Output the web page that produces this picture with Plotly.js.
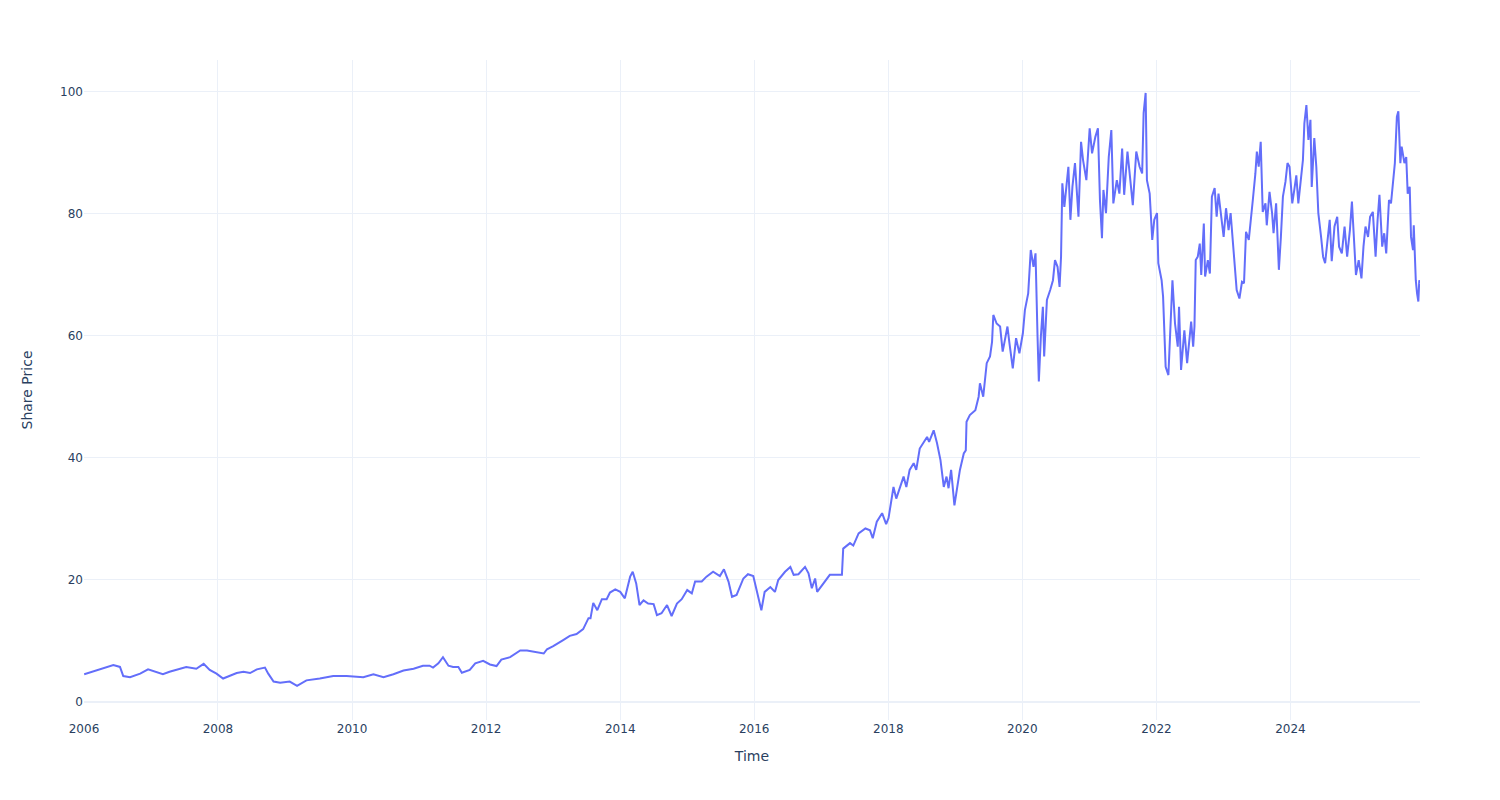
<!DOCTYPE html>
<html>
<head>
<meta charset="utf-8">
<script src="https://cdn.plot.ly/plotly-3.0.1.min.js"></script>
<style>html,body{margin:0;padding:0;background:#fff;}#chart{width:1500px;height:800px;}</style>
</head>
<body>
<div id="chart"></div>
<script>
const dates = [
"2006-01-02","2006-02-02","2006-03-29","2006-05-04","2006-05-26","2006-06-10","2006-07-16","2006-08-03","2006-09-09","2006-11-03","2006-12-16",
"2007-02-02","2007-03-07","2007-04-12","2007-06-06","2007-07-12","2007-09-05","2007-10-15","2007-11-17","2007-12-24",
"2008-01-29","2008-03-06","2008-04-12","2008-05-19","2008-06-24","2008-07-31","2008-09-13","2008-10-01","2008-10-30","2008-12-05",
"2009-01-26","2009-03-07","2009-04-27","2009-07-09","2009-09-20","2009-12-02",
"2010-03-03","2010-04-27","2010-06-21","2010-08-14","2010-10-08","2010-12-02",
"2011-01-22","2011-02-27","2011-03-18","2011-04-16","2011-05-11","2011-06-10","2011-07-05","2011-08-03","2011-08-22","2011-10-04","2011-11-03","2011-12-16",
"2012-01-22","2012-02-27","2012-03-24","2012-05-11","2012-07-05","2012-08-11","2012-09-23","2012-11-10","2012-11-28",
"2013-01-01","2013-02-24","2013-04-01","2013-05-08","2013-06-13","2013-07-12","2013-07-23","2013-08-07","2013-08-29","2013-09-23","2013-10-19","2013-11-06","2013-12-05",
"2014-01-01","2014-01-26","2014-02-24","2014-03-10","2014-03-29","2014-04-16","2014-05-08","2014-06-02","2014-07-02","2014-07-20","2014-08-14","2014-09-13","2014-10-08","2014-11-06","2014-12-02",
"2015-01-01","2015-01-26","2015-02-13","2015-03-21","2015-04-16","2015-05-22","2015-06-28","2015-07-20","2015-08-14","2015-09-02","2015-09-27","2015-11-03","2015-11-28","2015-12-27",
"2016-01-15","2016-02-09","2016-02-27","2016-03-29","2016-04-23","2016-05-11","2016-06-17","2016-07-16","2016-08-03","2016-08-29","2016-10-04","2016-10-23","2016-11-10","2016-11-28","2016-12-09",
"2017-01-11","2017-02-16","2017-03-25","2017-04-23","2017-04-30","2017-06-06","2017-06-24","2017-07-23","2017-08-29","2017-09-23","2017-10-08","2017-10-30","2017-11-28","2017-12-20",
"2018-01-02","2018-01-18","2018-01-29","2018-02-13","2018-03-07","2018-03-25","2018-04-09","2018-04-27","2018-05-19","2018-06-02","2018-06-21","2018-07-12","2018-07-31","2018-08-11","2018-09-05","2018-09-23","2018-10-12","2018-10-30","2018-11-14","2018-11-25","2018-12-09","2018-12-27",
"2019-01-11","2019-01-26","2019-02-16","2019-02-27","2019-03-03","2019-03-21","2019-04-20","2019-05-08","2019-05-15","2019-06-02","2019-06-21","2019-07-09","2019-07-20","2019-07-27","2019-08-14","2019-09-02","2019-09-16","2019-10-01","2019-10-12","2019-10-23","2019-11-10","2019-11-28","2019-12-16",
"2020-01-04","2020-01-15","2020-02-02","2020-02-16","2020-03-02","2020-03-13","2020-03-24","2020-03-31","2020-04-11","2020-04-22","2020-04-29","2020-05-14","2020-06-01","2020-06-16","2020-06-27","2020-07-11","2020-07-22","2020-07-30","2020-08-06","2020-08-17","2020-08-28","2020-09-08","2020-09-19","2020-09-30","2020-10-14","2020-11-02","2020-11-16","2020-11-27","2020-12-15",
"2021-01-02","2021-01-15","2021-02-02","2021-02-16","2021-02-27","2021-03-10","2021-03-18","2021-04-01","2021-04-16","2021-04-30","2021-05-11","2021-05-30","2021-06-13","2021-06-28","2021-07-09","2021-07-27","2021-08-11","2021-08-25","2021-09-13","2021-10-01","2021-10-15","2021-10-23","2021-11-03","2021-11-10","2021-11-25","2021-12-09","2021-12-20",
"2022-01-04","2022-01-11","2022-01-29","2022-02-06","2022-02-20","2022-03-07","2022-03-18","2022-03-29","2022-04-12","2022-04-27","2022-05-04","2022-05-15","2022-06-02","2022-06-17","2022-07-09","2022-07-20","2022-07-27","2022-08-03","2022-08-14","2022-08-25","2022-09-02","2022-09-16","2022-09-23","2022-10-08","2022-10-19","2022-10-30","2022-11-14","2022-11-25","2022-12-05","2022-12-20",
"2023-01-02","2023-01-15","2023-01-29","2023-02-09","2023-02-20","2023-03-07","2023-03-14","2023-03-29","2023-04-12","2023-04-23","2023-05-04","2023-05-19","2023-05-30","2023-06-10","2023-06-24","2023-07-02","2023-07-12","2023-07-23","2023-08-03","2023-08-18","2023-08-25","2023-09-09","2023-09-23","2023-10-01","2023-10-15","2023-10-30","2023-11-10","2023-11-21","2023-12-05","2023-12-16","2023-12-27",
"2024-01-11","2024-01-22","2024-02-02","2024-02-13","2024-02-27","2024-03-09","2024-03-17","2024-03-28","2024-04-08","2024-04-19","2024-04-26","2024-05-10","2024-05-21","2024-06-01","2024-06-16","2024-06-27","2024-07-08","2024-07-22","2024-08-02","2024-08-13","2024-08-28","2024-09-12","2024-09-22","2024-10-07","2024-10-22","2024-11-05","2024-11-20","2024-12-01","2024-12-08","2024-12-23",
"2025-01-07","2025-01-22","2025-02-02","2025-02-13","2025-02-27","2025-03-10","2025-03-25","2025-04-09","2025-04-20","2025-04-30","2025-05-15","2025-05-26","2025-06-06","2025-06-21","2025-07-02","2025-07-12","2025-07-23","2025-08-03","2025-08-11","2025-08-22","2025-08-29","2025-09-13","2025-09-23","2025-10-01","2025-10-12","2025-10-19","2025-10-30","2025-11-03","2025-11-14","2025-11-21","2025-11-28","2025-12-03","2025-12-06"
];
const prices = [
4.5,4.8,5.3,5.7,5.9,6.0,5.7,4.2,4.0,4.6,5.3,
4.9,4.5,4.9,5.4,5.7,5.4,6.2,5.2,4.6,
3.8,4.2,4.7,4.9,4.7,5.3,5.6,4.6,3.3,3.1,
3.3,2.6,3.5,3.8,4.2,4.2,
4.0,4.5,4.0,4.5,5.1,5.4,
5.9,5.9,5.6,6.3,7.3,5.9,5.7,5.7,4.75,5.2,6.3,6.7,
6.1,5.85,6.9,7.3,8.4,8.4,8.2,7.9,8.6,
9.1,10.1,10.8,11.1,11.9,13.7,13.7,16.2,15.0,16.8,16.8,17.9,18.4,
18.0,16.95,20.5,21.3,19.4,15.85,16.6,16.1,16.0,14.2,14.5,15.85,14.05,16.1,16.8,
18.3,17.75,19.7,19.7,20.5,21.3,20.6,21.7,19.7,17.2,17.5,20.2,20.9,20.6,
18.0,15.0,18.0,18.8,18.0,19.95,21.3,22.1,20.8,20.9,22.1,21.05,18.6,20.2,18.0,
19.4,20.8,20.8,20.8,25.1,26.0,25.6,27.6,28.4,28.1,26.8,29.5,30.9,29.1,
30.1,33.6,35.2,33.3,35.2,36.9,35.2,38.0,39.1,38.0,41.5,42.6,43.4,42.6,44.5,42.4,39.6,35.2,36.9,35.0,38.0,32.2,
35.2,38.0,40.7,41.2,45.9,47.0,47.8,50.0,52.2,50.0,55.5,56.6,59.0,63.4,62.0,61.5,57.4,59.8,61.5,58.75,54.65,59.6,57.1,
60.4,64.2,66.95,74.05,71.3,73.5,59.8,52.5,59.8,64.75,56.6,65.85,67.5,69.1,72.4,71.3,68.0,72.95,85.0,81.1,84.4,87.7,79.0,84.4,88.3,79.5,91.8,88.8,85.5,
94.0,89.9,92.6,94.0,82.25,76.0,83.9,80.1,89.3,93.7,81.7,85.5,83.3,90.7,83.1,90.2,85.5,81.4,90.2,87.7,86.6,96.5,99.8,85.5,83.3,75.7,79.0,
80.1,71.9,69.1,66.4,54.9,53.55,62.6,69.1,62.0,58.2,64.75,54.4,60.9,55.5,62.3,58.2,61.5,72.4,72.95,75.1,69.95,78.4,69.7,72.4,70.2,82.8,84.2,79.5,83.3,79.0,
76.2,80.9,77.3,80.1,76.2,70.8,67.5,66.1,68.85,68.6,77.05,75.7,79.5,82.25,86.6,90.2,87.7,91.8,80.3,81.7,78.1,83.6,80.1,76.8,81.7,70.8,76.2,82.8,85.25,88.3,87.7,
81.7,83.9,86.3,81.7,85.5,88.8,94.8,97.8,92.1,95.4,84.4,92.4,87.7,80.1,76.2,72.95,71.9,75.7,79.0,72.2,77.9,79.5,74.6,73.5,77.9,72.95,77.3,82.0,77.9,69.95,
72.4,69.4,74.6,77.9,76.2,79.5,80.3,72.95,79.0,83.1,74.6,76.8,73.5,82.25,81.7,85.5,88.3,95.9,96.8,88.3,91.0,88.3,89.3,83.3,84.4,76.2,74.05,78.1,69.1,66.95,65.6,69.1,68.6
];

const trace = {
  type: 'scatter',
  mode: 'lines',
  x: dates,
  y: prices,
  line: {color: '#636efa', width: 2},
  name: 'Share Price'
};

const layout = {
  width: 1500,
  height: 800,
  margin: {l: 84, r: 80, t: 60, b: 80},
  paper_bgcolor: '#ffffff',
  plot_bgcolor: '#ffffff',
  font: {family: '"DejaVu Sans", verdana, arial, sans-serif', size: 12, color: '#2a3f5f'},
  showlegend: false,
  xaxis: {
    type: 'date',
    range: ['2006-01-01', '2025-12-07'],
    title: {text: 'Time', font: {size: 14}, standoff: 16},
    gridcolor: '#EBF0F8',
    zerolinecolor: '#EBF0F8',
    showline: false,
    ticks: '',
    dtick: 'M24',
    tick0: '2006-01-01'
  },
  yaxis: {
    range: [-3.0, 105.2],
    title: {text: 'Share Price', font: {size: 14}, standoff: 24},
    gridcolor: '#EBF0F8',
    zerolinecolor: '#EBF0F8',
    zerolinewidth: 2,
    showline: false,
    ticks: '',
    dtick: 20
  }
};

Plotly.newPlot('chart', [trace], layout, {displayModeBar: false});
</script>
</body>
</html>
